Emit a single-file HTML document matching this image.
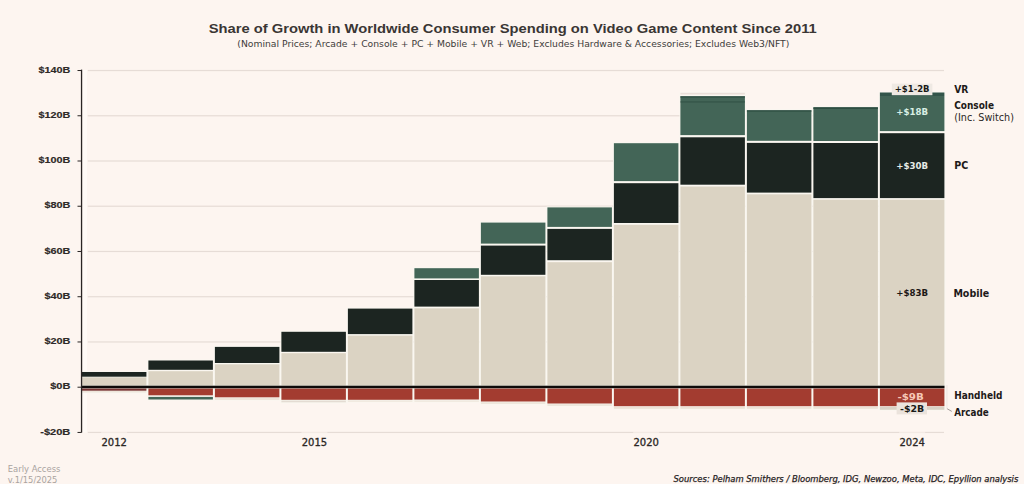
<!DOCTYPE html>
<html><head><meta charset="utf-8"><title>Share of Growth in Worldwide Consumer Spending on Video Game Content Since 2011</title>
<style>
html,body{margin:0;padding:0;background:#fdf5f0;}
body{width:1024px;height:484px;overflow:hidden;}
svg{display:block;}
text{font-family:'DejaVu Sans','Liberation Sans',sans-serif;}
.ti{font-size:13.2px;font-weight:bold;fill:#3a3634;font-family:'Liberation Sans','DejaVu Sans',sans-serif;}
.st{font-size:8.8px;fill:#403c3a;font-family:'DejaVu Sans','Liberation Sans',sans-serif;}
.yl{font-size:9.2px;font-weight:bold;fill:#2e2a28;stroke:#2e2a28;stroke-width:0.15px;font-family:'Liberation Sans','DejaVu Sans',sans-serif;}
.xl{font-size:10px;fill:#2b2725;stroke:#2b2725;stroke-width:0.3px;}
.vl{font-size:9.4px;font-weight:bold;}
.rl{font-size:9.6px;font-weight:bold;fill:#1d1a19;}
.rs{font-size:9.6px;fill:#2b2725;}
.fa{font-size:8.6px;fill:#a9a3a0;}
.src{font-size:8.4px;font-style:italic;fill:#26221f;stroke:#26221f;stroke-width:0.25px;font-family:'DejaVu Sans','Liberation Sans',sans-serif;}
</style></head>
<body><svg width="1024" height="484" viewBox="0 0 1024 484">
<rect width="1024" height="484" fill="#fdf5f0"/>
<rect x="87.8" y="69.92" width="856.2" height="1.2" fill="#e6dcd6"/>
<rect x="87.8" y="115.16" width="856.2" height="1.2" fill="#e6dcd6"/>
<rect x="87.8" y="160.4" width="856.2" height="1.2" fill="#e6dcd6"/>
<rect x="87.8" y="205.64" width="856.2" height="1.2" fill="#e6dcd6"/>
<rect x="87.8" y="250.88" width="856.2" height="1.2" fill="#e6dcd6"/>
<rect x="87.8" y="296.12" width="856.2" height="1.2" fill="#e6dcd6"/>
<rect x="87.8" y="341.36" width="856.2" height="1.2" fill="#e6dcd6"/>
<rect x="87.8" y="431.84" width="856.2" height="1.2" fill="#e6dcd6"/>
<rect x="82.6" y="70" width="4.4" height="362.4" fill="#fffaf6"/>
<rect x="81" y="371.1" width="66.3" height="6.5" fill="#f9f7f0"/>
<rect x="81" y="376.4" width="66.3" height="10" fill="#f9f7f0"/>
<rect x="81" y="387.6" width="66.3" height="4" fill="#f9f7f0"/>
<rect x="81" y="390.3" width="66.3" height="3" fill="#f9f7f0"/>
<rect x="147.5" y="359.6" width="66.3" height="11.1" fill="#f9f7f0"/>
<rect x="147.5" y="370.3" width="66.3" height="16.1" fill="#f9f7f0"/>
<rect x="147.5" y="387.6" width="66.3" height="8.6" fill="#f9f7f0"/>
<rect x="147.5" y="396" width="66.3" height="4.4" fill="#f9f7f0"/>
<rect x="214" y="346" width="66.3" height="17.9" fill="#f9f7f0"/>
<rect x="214" y="363.4" width="66.3" height="23" fill="#f9f7f0"/>
<rect x="214" y="387.6" width="66.3" height="10.6" fill="#f9f7f0"/>
<rect x="214" y="397.3" width="66.3" height="3.4" fill="#f9f7f0"/>
<rect x="280.5" y="330.9" width="66.3" height="21.8" fill="#f9f7f0"/>
<rect x="280.5" y="352.3" width="66.3" height="34.1" fill="#f9f7f0"/>
<rect x="280.5" y="387.6" width="66.3" height="13.1" fill="#f9f7f0"/>
<rect x="280.5" y="399.7" width="66.3" height="3.5" fill="#f9f7f0"/>
<rect x="347" y="307.7" width="66.3" height="27.3" fill="#f9f7f0"/>
<rect x="347" y="334.7" width="66.3" height="51.7" fill="#f9f7f0"/>
<rect x="347" y="387.6" width="66.3" height="13.1" fill="#f9f7f0"/>
<rect x="347" y="399.7" width="66.3" height="2.8" fill="#f9f7f0"/>
<rect x="413.5" y="267.3" width="66.3" height="12" fill="#f9f7f0"/>
<rect x="413.5" y="279.1" width="66.3" height="28.4" fill="#f9f7f0"/>
<rect x="413.5" y="307.4" width="66.3" height="79" fill="#f9f7f0"/>
<rect x="413.5" y="387.6" width="66.3" height="12.8" fill="#f9f7f0"/>
<rect x="413.5" y="399.7" width="66.3" height="2.8" fill="#f9f7f0"/>
<rect x="480" y="221.7" width="66.3" height="22.8" fill="#f9f7f0"/>
<rect x="480" y="244.7" width="66.3" height="31" fill="#f9f7f0"/>
<rect x="480" y="275.4" width="66.3" height="111" fill="#f9f7f0"/>
<rect x="480" y="387.6" width="66.3" height="14.8" fill="#f9f7f0"/>
<rect x="480" y="401.4" width="66.3" height="3.3" fill="#f9f7f0"/>
<rect x="546.5" y="206.5" width="66.3" height="21.3" fill="#f9f7f0"/>
<rect x="546.5" y="228" width="66.3" height="33.1" fill="#f9f7f0"/>
<rect x="546.5" y="261.3" width="66.3" height="125.1" fill="#f9f7f0"/>
<rect x="546.5" y="387.6" width="66.3" height="16.8" fill="#f9f7f0"/>
<rect x="546.5" y="403.4" width="66.3" height="3.3" fill="#f9f7f0"/>
<rect x="613" y="142.3" width="66.3" height="39.7" fill="#f9f7f0"/>
<rect x="613" y="182.3" width="66.3" height="41.6" fill="#f9f7f0"/>
<rect x="613" y="223.9" width="66.3" height="162.5" fill="#f9f7f0"/>
<rect x="613" y="387.6" width="66.3" height="19.5" fill="#f9f7f0"/>
<rect x="613" y="406.1" width="66.3" height="3.6" fill="#f9f7f0"/>
<rect x="679.5" y="91.9" width="66.3" height="3.5" fill="#f9f7f0"/>
<rect x="679.5" y="95.4" width="66.3" height="40.6" fill="#f9f7f0"/>
<rect x="679.5" y="136.4" width="66.3" height="49.2" fill="#f9f7f0"/>
<rect x="679.5" y="185.6" width="66.3" height="200.8" fill="#f9f7f0"/>
<rect x="679.5" y="387.6" width="66.3" height="19.5" fill="#f9f7f0"/>
<rect x="679.5" y="406.1" width="66.3" height="3.6" fill="#f9f7f0"/>
<rect x="746" y="109.4" width="66.3" height="32.3" fill="#f9f7f0"/>
<rect x="746" y="142" width="66.3" height="51.5" fill="#f9f7f0"/>
<rect x="746" y="193.4" width="66.3" height="193" fill="#f9f7f0"/>
<rect x="746" y="387.6" width="66.3" height="19.5" fill="#f9f7f0"/>
<rect x="746" y="406.1" width="66.3" height="3.6" fill="#f9f7f0"/>
<rect x="812.5" y="106.4" width="66.3" height="35.5" fill="#f9f7f0"/>
<rect x="812.5" y="142.1" width="66.3" height="56.9" fill="#f9f7f0"/>
<rect x="812.5" y="198.8" width="66.3" height="187.6" fill="#f9f7f0"/>
<rect x="812.5" y="387.6" width="66.3" height="19.5" fill="#f9f7f0"/>
<rect x="812.5" y="406.1" width="66.3" height="3.6" fill="#f9f7f0"/>
<rect x="879" y="91.6" width="66.3" height="5.3" fill="#f9f7f0"/>
<rect x="879" y="95.1" width="66.3" height="36.9" fill="#f9f7f0"/>
<rect x="879" y="132.3" width="66.3" height="66.7" fill="#f9f7f0"/>
<rect x="879" y="198.8" width="66.3" height="187.6" fill="#f9f7f0"/>
<rect x="879" y="387.6" width="66.3" height="19.5" fill="#f9f7f0"/>
<rect x="879" y="406" width="66.3" height="4.7" fill="#f9f7f0"/>
<rect x="81.9" y="372" width="64.5" height="4.7" fill="#1c2521"/>
<rect x="81.9" y="377.3" width="64.5" height="8.2" fill="#dbd3c3"/>
<rect x="81.9" y="388.5" width="64.5" height="2.2" fill="#7a3432"/>
<rect x="81.9" y="391.2" width="64.5" height="1.2" fill="#ece2d6"/>
<rect x="148.4" y="360.5" width="64.5" height="9.3" fill="#1c2521"/>
<rect x="148.4" y="371.2" width="64.5" height="14.3" fill="#dbd3c3"/>
<rect x="148.4" y="388.5" width="64.5" height="6.8" fill="#a33c30"/>
<rect x="148.4" y="396.9" width="64.5" height="2.6" fill="#436557"/>
<rect x="214.9" y="346.9" width="64.5" height="16.1" fill="#1c2521"/>
<rect x="214.9" y="364.3" width="64.5" height="21.2" fill="#dbd3c3"/>
<rect x="214.9" y="388.5" width="64.5" height="8.8" fill="#a33c30"/>
<rect x="214.9" y="398.2" width="64.5" height="1.6" fill="#ece2d6"/>
<rect x="281.4" y="331.8" width="64.5" height="20" fill="#1c2521"/>
<rect x="281.4" y="353.2" width="64.5" height="32.3" fill="#dbd3c3"/>
<rect x="281.4" y="388.5" width="64.5" height="11.3" fill="#a33c30"/>
<rect x="281.4" y="400.6" width="64.5" height="1.7" fill="#e4dcd3"/>
<rect x="347.9" y="308.6" width="64.5" height="25.5" fill="#1c2521"/>
<rect x="347.9" y="335.6" width="64.5" height="49.9" fill="#dbd3c3"/>
<rect x="347.9" y="388.5" width="64.5" height="11.3" fill="#a33c30"/>
<rect x="347.9" y="400.6" width="64.5" height="1" fill="#ece2d6"/>
<rect x="414.4" y="268.2" width="64.5" height="10.2" fill="#436557"/>
<rect x="414.4" y="280" width="64.5" height="26.6" fill="#1c2521"/>
<rect x="414.4" y="308.3" width="64.5" height="77.2" fill="#dbd3c3"/>
<rect x="414.4" y="388.5" width="64.5" height="11" fill="#a33c30"/>
<rect x="414.4" y="400.6" width="64.5" height="1" fill="#ece2d6"/>
<rect x="480.9" y="222.6" width="64.5" height="21" fill="#436557"/>
<rect x="480.9" y="245.6" width="64.5" height="29.2" fill="#1c2521"/>
<rect x="480.9" y="276.3" width="64.5" height="109.2" fill="#dbd3c3"/>
<rect x="480.9" y="388.5" width="64.5" height="13" fill="#a33c30"/>
<rect x="480.9" y="402.3" width="64.5" height="1.5" fill="#ece2d6"/>
<rect x="547.4" y="207.4" width="64.5" height="19.5" fill="#436557"/>
<rect x="547.4" y="228.9" width="64.5" height="31.3" fill="#1c2521"/>
<rect x="547.4" y="262.2" width="64.5" height="123.3" fill="#dbd3c3"/>
<rect x="547.4" y="388.5" width="64.5" height="15" fill="#a33c30"/>
<rect x="547.4" y="404.3" width="64.5" height="1.5" fill="#ece2d6"/>
<rect x="613.9" y="143.2" width="64.5" height="37.9" fill="#436557"/>
<rect x="613.9" y="183.2" width="64.5" height="39.8" fill="#1c2521"/>
<rect x="613.9" y="224.8" width="64.5" height="160.7" fill="#dbd3c3"/>
<rect x="613.9" y="388.5" width="64.5" height="17.7" fill="#a33c30"/>
<rect x="613.9" y="407" width="64.5" height="1.8" fill="#ece2d6"/>
<rect x="680.4" y="92.8" width="64.5" height="1.7" fill="#ebdfd9"/>
<rect x="680.4" y="96.3" width="64.5" height="38.8" fill="#436557"/>
<rect x="680.4" y="137.3" width="64.5" height="47.4" fill="#1c2521"/>
<rect x="680.4" y="186.5" width="64.5" height="199" fill="#dbd3c3"/>
<rect x="680.4" y="388.5" width="64.5" height="17.7" fill="#a33c30"/>
<rect x="680.4" y="407" width="64.5" height="1.8" fill="#ece2d6"/>
<rect x="746.9" y="110.3" width="64.5" height="30.5" fill="#436557"/>
<rect x="746.9" y="142.9" width="64.5" height="49.7" fill="#1c2521"/>
<rect x="746.9" y="194.3" width="64.5" height="191.2" fill="#dbd3c3"/>
<rect x="746.9" y="388.5" width="64.5" height="17.7" fill="#a33c30"/>
<rect x="746.9" y="407" width="64.5" height="1.8" fill="#ece2d6"/>
<rect x="813.4" y="107.3" width="64.5" height="33.7" fill="#436557"/>
<rect x="813.4" y="143" width="64.5" height="55.1" fill="#1c2521"/>
<rect x="813.4" y="199.7" width="64.5" height="185.8" fill="#dbd3c3"/>
<rect x="813.4" y="388.5" width="64.5" height="17.7" fill="#a33c30"/>
<rect x="813.4" y="407" width="64.5" height="1.8" fill="#ece2d6"/>
<rect x="879.9" y="92.5" width="64.5" height="3.5" fill="#33554a"/>
<rect x="879.9" y="96" width="64.5" height="35.1" fill="#436557"/>
<rect x="879.9" y="133.2" width="64.5" height="64.9" fill="#1c2521"/>
<rect x="879.9" y="199.7" width="64.5" height="185.8" fill="#dbd3c3"/>
<rect x="879.9" y="388.5" width="64.5" height="17.7" fill="#a33c30"/>
<rect x="879.9" y="406.9" width="64.5" height="2.9" fill="#d9d1c5"/>
<rect x="680.4" y="96.3" width="64.5" height="1.3" fill="#2e4e42"/>
<rect x="680.4" y="101.5" width="64.5" height="0.9" fill="#2e4e42"/>
<rect x="746.9" y="110.3" width="64.5" height="1.3" fill="#2e4e42"/>
<rect x="813.4" y="107.3" width="64.5" height="1.7" fill="#2e4e42"/>
<rect x="81" y="385.7" width="863.5" height="2.5" fill="#0d0a09"/>
<rect x="80.9" y="69.6" width="1.3" height="363" fill="#2a2524"/>
<rect x="77.5" y="70.02" width="4" height="1" fill="#2a2524"/>
<rect x="77.5" y="115.26" width="4" height="1" fill="#2a2524"/>
<rect x="77.5" y="160.5" width="4" height="1" fill="#2a2524"/>
<rect x="77.5" y="205.74" width="4" height="1" fill="#2a2524"/>
<rect x="77.5" y="250.98" width="4" height="1" fill="#2a2524"/>
<rect x="77.5" y="296.22" width="4" height="1" fill="#2a2524"/>
<rect x="77.5" y="341.46" width="4" height="1" fill="#2a2524"/>
<rect x="77.5" y="386.7" width="4" height="1" fill="#2a2524"/>
<rect x="77.5" y="431.94" width="4" height="1" fill="#2a2524"/>
<text x="70.4" y="72.72" text-anchor="end" class="yl" textLength="31.8" lengthAdjust="spacingAndGlyphs">$140B</text>
<text x="70.4" y="117.96" text-anchor="end" class="yl" textLength="31.8" lengthAdjust="spacingAndGlyphs">$120B</text>
<text x="70.4" y="163.2" text-anchor="end" class="yl" textLength="31.8" lengthAdjust="spacingAndGlyphs">$100B</text>
<text x="70.4" y="208.44" text-anchor="end" class="yl" textLength="26.0" lengthAdjust="spacingAndGlyphs">$80B</text>
<text x="70.4" y="253.68" text-anchor="end" class="yl" textLength="26.0" lengthAdjust="spacingAndGlyphs">$60B</text>
<text x="70.4" y="298.92" text-anchor="end" class="yl" textLength="26.0" lengthAdjust="spacingAndGlyphs">$40B</text>
<text x="70.4" y="344.16" text-anchor="end" class="yl" textLength="26.0" lengthAdjust="spacingAndGlyphs">$20B</text>
<text x="70.4" y="389.4" text-anchor="end" class="yl" textLength="20.2" lengthAdjust="spacingAndGlyphs">$0B</text>
<text x="70.4" y="434.64" text-anchor="end" class="yl" textLength="30.2" lengthAdjust="spacingAndGlyphs">-$20B</text>
<rect x="101.15" y="431.4" width="26" height="2" fill="#fdf5f0" fill-opacity="0.55"/>
<text x="114.15" y="446.3" text-anchor="middle" class="xl">2012</text>
<rect x="301.45" y="431.4" width="26" height="2" fill="#fdf5f0" fill-opacity="0.55"/>
<text x="314.45" y="446.3" text-anchor="middle" class="xl">2015</text>
<rect x="633.15" y="431.4" width="26" height="2" fill="#fdf5f0" fill-opacity="0.55"/>
<text x="646.15" y="446.3" text-anchor="middle" class="xl">2020</text>
<rect x="899.15" y="431.4" width="26" height="2" fill="#fdf5f0" fill-opacity="0.55"/>
<text x="912.15" y="446.3" text-anchor="middle" class="xl">2024</text>
<rect x="891.8" y="83.6" width="40.6" height="11.6" fill="#efe9e3"/>
<text x="912.15" y="92.4" text-anchor="middle" class="vl" fill="#1a1a18" textLength="34.8" lengthAdjust="spacingAndGlyphs">+$1-2B</text>
<text x="912.15" y="114.6" text-anchor="middle" class="vl" fill="#d9efe4" textLength="31.8" lengthAdjust="spacingAndGlyphs">+$18B</text>
<text x="912.15" y="168.5" text-anchor="middle" class="vl" fill="#e6ebe6" textLength="31.8" lengthAdjust="spacingAndGlyphs">+$30B</text>
<text x="912.15" y="296.4" text-anchor="middle" class="vl" fill="#1b1715" textLength="31.8" lengthAdjust="spacingAndGlyphs">+$83B</text>
<text x="910.6" y="399.8" text-anchor="middle" class="vl" fill="#f6c7b6" textLength="26.4" lengthAdjust="spacingAndGlyphs">-$9B</text>
<rect x="896.6" y="402.4" width="30.4" height="12" fill="#ebe3dc"/>
<text x="912.15" y="411.9" text-anchor="middle" class="vl" fill="#1a1a18" textLength="24.2" lengthAdjust="spacingAndGlyphs">-$2B</text>
<text x="954.2" y="93" class="rl" textLength="14.2" lengthAdjust="spacingAndGlyphs">VR</text>
<text x="954.2" y="109.4" class="rl" textLength="39.8" lengthAdjust="spacingAndGlyphs">Console</text>
<text x="954.2" y="121.3" class="rs" textLength="59.8" lengthAdjust="spacingAndGlyphs">(Inc. Switch)</text>
<text x="954.2" y="168.7" class="rl" textLength="14.0" lengthAdjust="spacingAndGlyphs">PC</text>
<text x="953.4" y="296.5" class="rl" textLength="35.8" lengthAdjust="spacingAndGlyphs">Mobile</text>
<text x="954.2" y="399" class="rl" textLength="48.3" lengthAdjust="spacingAndGlyphs">Handheld</text>
<text x="954.2" y="415.5" class="rl" textLength="34.6" lengthAdjust="spacingAndGlyphs">Arcade</text>
<rect x="946.5" y="385" width="0.9" height="24.2" fill="#ebe4df"/>
<line x1="947.2" y1="408.8" x2="951.8" y2="411.4" stroke="#8a8280" stroke-width="0.8"/>
<text x="512.8" y="33" text-anchor="middle" class="ti" textLength="608" lengthAdjust="spacingAndGlyphs">Share of Growth in Worldwide Consumer Spending on Video Game Content Since 2011</text>
<text x="513.3" y="47" text-anchor="middle" class="st" textLength="552" lengthAdjust="spacingAndGlyphs">(Nominal Prices; Arcade + Console + PC + Mobile + VR + Web; Excludes Hardware &amp; Accessories; Excludes Web3/NFT)</text>
<text x="7.8" y="471.8" class="fa" textLength="52.6" lengthAdjust="spacingAndGlyphs">Early Access</text>
<text x="7.8" y="482.8" class="fa" textLength="49.6" lengthAdjust="spacingAndGlyphs">v.1/15/2025</text>
<text x="1018.3" y="482.2" text-anchor="end" class="src" textLength="344.8" lengthAdjust="spacingAndGlyphs">Sources: Pelham Smithers / Bloomberg, IDG, Newzoo, Meta, IDC, Epyllion analysis</text>
</svg></body></html>
